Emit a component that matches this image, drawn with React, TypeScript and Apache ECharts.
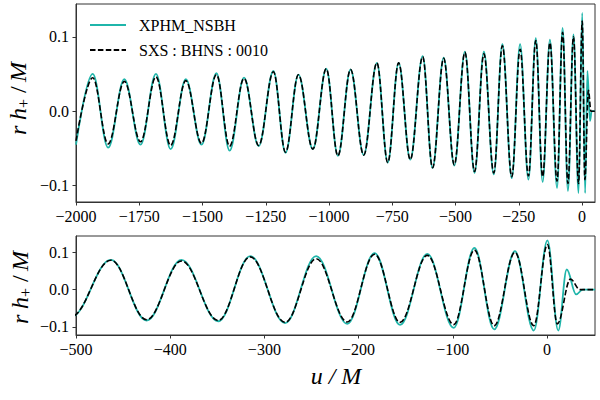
import React, { useEffect, useRef } from 'react';
import * as echarts from 'echarts';

// Extrema of the waveforms (u/M, r h+/M)
const xphmU = [-2000, -1934, -1873, -1809, -1745, -1684, -1626, -1566, -1504, -1445, -1393, -1336, -1278, -1220, -1172, -1121, -1064, -1011, -965, -915, -863, -811, -768, -725, -679, -630, -591, -547, -505, -463, -425, -388, -349, -315, -278, -245, -212, -183, -156, -127, -99, -77, -56, -34, -14, 0.5, 12, 21, 31, 38, 51];
const xphmH = [-0.045, 0.050, -0.049, 0.043, -0.045, 0.050, -0.051, 0.043, -0.045, 0.051, -0.053, 0.045, -0.047, 0.054, -0.056, 0.049, -0.051, 0.057, -0.060, 0.056, -0.059, 0.065, -0.069, 0.065, -0.065, 0.074, -0.076, 0.072, -0.073, 0.080, -0.083, 0.080, -0.085, 0.090, -0.090, 0.090, -0.092, 0.098, -0.095, 0.096, -0.103, 0.112, -0.107, 0.103, -0.110, 0.132, -0.110, 0.054, -0.013, 0.0, 0.0];

const sxsU = [-2000, -1934, -1873, -1809, -1745, -1684, -1626, -1566, -1504, -1445, -1393, -1336, -1278, -1220, -1172, -1121, -1064, -1011, -965, -915, -863, -811, -768, -725, -679, -630, -591, -547, -505, -463, -425, -388, -349, -315, -278, -245, -212, -183, -156, -127, -99, -77, -56, -34, -14, 0.5, 11, 25, 35, 51];
const sxsH = [-0.040, 0.045, -0.044, 0.040, -0.041, 0.046, -0.046, 0.041, -0.043, 0.049, -0.047, 0.044, -0.046, 0.053, -0.055, 0.049, -0.051, 0.057, -0.060, 0.056, -0.059, 0.065, -0.069, 0.065, -0.065, 0.073, -0.076, 0.071, -0.072, 0.079, -0.081, 0.077, -0.083, 0.088, -0.088, 0.083, -0.087, 0.095, -0.088, 0.092, -0.094, 0.106, -0.097, 0.100, -0.097, 0.121, -0.092, 0.028, 0.0, 0.0];

const seriesNames = ['XPHM_NSBH', 'SXS : BHNS : 0010'];
const topTicks = [-2000, -1750, -1500, -1250, -1000, -750, -500, -250, 0];
const bottomTicks = [-500, -400, -300, -200, -100, 0];
const yTicks = [-0.1, 0, 0.1];

const FONT = '"Liberation Serif", "Times New Roman", serif';
const TEAL = '#1FB5AA';
const FRAME = '#333';

const fmtX = (v: number) => (v < 0 ? '\u2212' + Math.abs(v) : String(v));
const fmtY = (v: number) => (Math.abs(v) < 1e-9 ? '0.0' : (v < 0 ? '\u2212' : '') + Math.abs(v).toFixed(1));

function xAxis(gridIndex: number, min: number, max: number, ticks: number[]) {
  return {
    type: 'value', gridIndex, min, max,
    axisLine: { show: true, onZero: false, lineStyle: { color: FRAME, width: 1 } },
    axisTick: { show: true, length: 3.5, customValues: ticks, lineStyle: { color: FRAME, width: 1 } },
    axisLabel: {
      customValues: ticks, fontFamily: FONT, fontSize: 16, color: '#000', margin: 6,
      formatter: (v: number) => (ticks.indexOf(v) >= 0 ? fmtX(v) : ''),
    },
    splitLine: { show: false },
  };
}

function yAxis(gridIndex: number) {
  return {
    type: 'value', gridIndex, min: -0.122, max: 0.144,
    axisLine: { show: true, onZero: false, lineStyle: { color: FRAME, width: 1 } },
    axisTick: { show: true, length: 3.5, customValues: yTicks, lineStyle: { color: FRAME, width: 1 } },
    axisLabel: {
      customValues: yTicks, fontFamily: FONT, fontSize: 16, color: '#000', margin: 7,
      formatter: (v: number) => fmtY(v),
    },
    splitLine: { show: false },
  };
}

function makeSeries(idx: number) {
  const common = {
    type: 'line', xAxisIndex: idx, yAxisIndex: idx, symbol: 'none', showSymbol: false,
    smooth: 0.37, smoothMonotone: 'x', clip: true,
  };
  return [
    {
      ...common, name: seriesNames[0], z: 2,
      data: xphmU.map((u, i) => [u, xphmH[i]]),
      lineStyle: { color: TEAL, width: 1.8 },
      itemStyle: { color: TEAL },
    },
    {
      ...common, name: seriesNames[1], z: 3,
      data: sxsU.map((u, i) => [u, sxsH[i]]),
      lineStyle: { color: '#000', width: 1.6, type: [5.5, 2.4] },
      itemStyle: { color: '#000' },
    },
  ];
}

function yLabel(cx: number, cy: number) {
  const it = { fontFamily: FONT, fontStyle: 'italic', fontSize: 24, fill: '#000', textVerticalAlign: 'middle', verticalAlign: 'middle', textAlign: 'left', align: 'left' };
  return {
    type: 'group', x: cx, y: cy, rotation: Math.PI / 2,
    children: [
      { type: 'text', x: -38, y: 0, style: { ...it, text: 'r' } },
      { type: 'text', x: -23, y: 0, style: { ...it, text: 'h' } },
      { type: 'text', x: -11, y: 5, style: { ...it, fontStyle: 'normal', fontSize: 16, text: '+' } },
      { type: 'text', x: 4, y: 0, style: { ...it, fontStyle: 'normal', text: '/' } },
      { type: 'text', x: 15, y: 0, style: { ...it, text: 'M' } },
    ],
  };
}

export default function App() {
  const ref = useRef<HTMLDivElement>(null);
  useEffect(() => {
    const chart = echarts.init(ref.current!, null, { renderer: 'svg' });
    chart.setOption({
      animation: false,
      backgroundColor: '#fff',
      grid: [
        { left: 76, top: 4, width: 519, height: 198, show: true, borderColor: FRAME, borderWidth: 1, backgroundColor: 'transparent' },
        { left: 76, top: 236, width: 519, height: 99, show: true, borderColor: FRAME, borderWidth: 1, backgroundColor: 'transparent' },
      ],
      xAxis: [xAxis(0, -2000, 51, topTicks), xAxis(1, -500, 51, bottomTicks)],
      yAxis: [yAxis(0), yAxis(1)],
      legend: {
        data: seriesNames, orient: 'vertical', left: 84, top: 12, padding: 5,
        itemWidth: 36, itemHeight: 16, itemGap: 9, selectedMode: false,
        itemStyle: { opacity: 0 },
        textStyle: { fontFamily: FONT, fontSize: 16, color: '#000', padding: [0, 0, 0, 8] },
      },
      series: [...makeSeries(0), ...makeSeries(1)],
      graphic: [
        yLabel(18, 97),
        yLabel(20, 286),
        {
          type: 'text', x: 336, y: 376,
          style: { text: 'u / M', fontFamily: FONT, fontStyle: 'italic', fontSize: 24, fill: '#000', textAlign: 'center', align: 'center', textVerticalAlign: 'middle', verticalAlign: 'middle' },
        },
      ],
    });
    return () => chart.dispose();
  }, []);
  return <div ref={ref} style={{ position: 'absolute', left: 0, top: 0, width: 600, height: 400 }} />;
}
